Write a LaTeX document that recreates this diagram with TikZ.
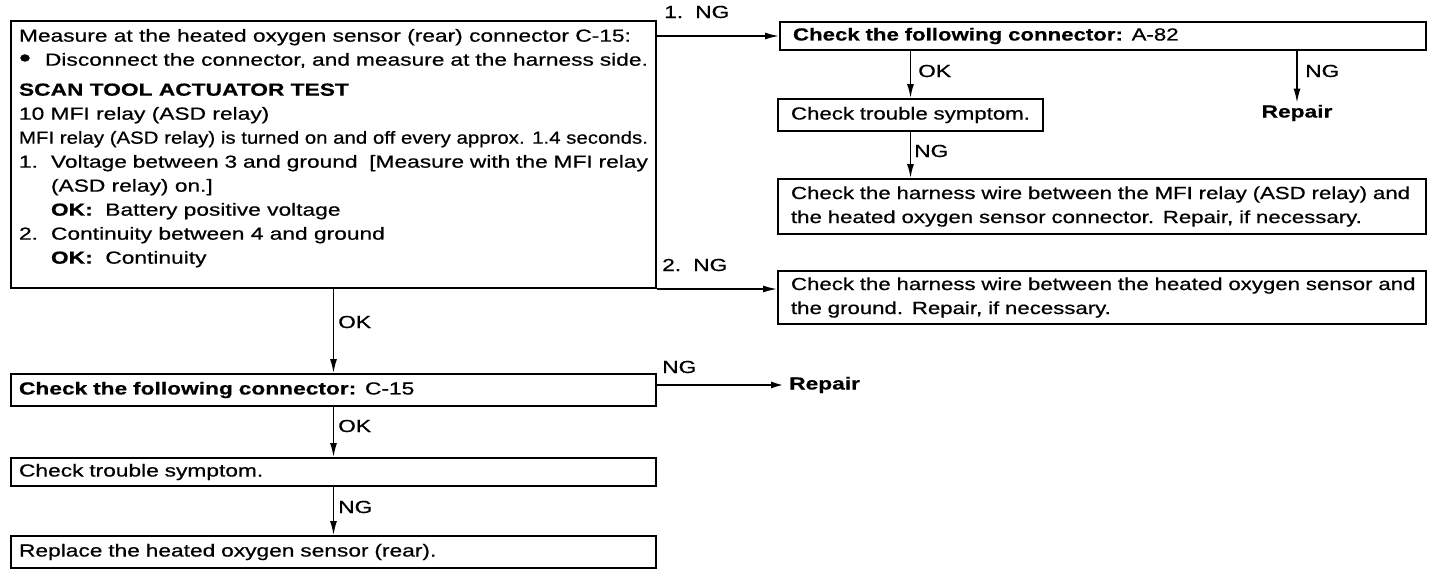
\documentclass[tikz,border=0pt]{standalone}
\usepackage{fontspec}
\usepackage{graphicx}
\setmainfont{Liberation Sans}[FakeStretch=1.3, UprightFeatures={FakeBold=0.6}, BoldFeatures={FakeBold=0.5}]
\newfontfamily\rightfont{Liberation Sans}[FakeStretch=1.27, UprightFeatures={FakeBold=0.6}, BoldFeatures={FakeBold=0.5}]
\usetikzlibrary{arrows.meta}

\tikzset{
  box/.style={draw, line width=2pt, anchor=north west, inner ysep=0pt, align=left},
  rbox/.style={box, inner xsep=13pt, font=\txtsize\rightfont},
  arr/.style={line width=1.5pt, -{Latex[length=14pt,width=7pt]}},
  lbl/.style={inner sep=0pt, anchor=west},
}
\newcommand{\txtsize}{\fontsize{17.5}{24}\selectfont}
\newcommand{\ind}{\hspace*{32pt}}

\begin{document}
\begin{tikzpicture}[x=1pt, y=-1pt, font=\txtsize]
  \useasboundingbox (0,0) rectangle (1440,574);

  % left column
  \node[box, inner xsep=8pt, inner ysep=8pt] (meas) at (10,20) {\parbox[t][251pt][t]{629pt}{\raggedright
    Measure at the heated oxygen sensor (rear) connector C-15:\\
    \makebox[26pt][l]{\raisebox{-1pt}{\scalebox{1.5}{\textbullet}}}Disconnect the connector, and measure at the harness side.\\[6pt]
    \textbf{SCAN TOOL ACTUATOR TEST}\\
    10 MFI relay (ASD relay)\\
    \resizebox{629pt}{\height}{MFI relay (ASD relay) is turned on and off every approx. 1.4 seconds.}\\
    \makebox[32pt][l]{1.}Voltage between 3 and ground\ \ [Measure with the MFI relay\\
    \ind(ASD relay) on.]\\
    \ind\textbf{OK:}\ \ Battery positive voltage\\
    \makebox[32pt][l]{2.}Continuity between 4 and ground\\
    \ind\textbf{OK:}\ \ Continuity}};
  \node[box, inner xsep=8pt, text width=629pt, minimum height=32pt] (conB) at (10,373) {\textbf{Check the following connector:} C-15};
  \node[box, inner xsep=8pt, text width=629pt, minimum height=28pt] (trbB) at (10,457) {Check trouble symptom.};
  \node[box, inner xsep=8pt, text width=629pt, minimum height=32pt] (repl) at (10,535) {Replace the heated oxygen sensor (rear).};

  % right column
  \node[rbox, text width=620pt, minimum height=28pt] (conA) at (779,21) {\textbf{Check the following connector:} A-82};
  \node[rbox, text width=239pt, minimum height=32pt] (trbA) at (777,98) {\mbox{Check trouble symptom.}};
  \node[rbox, text width=622pt, minimum height=55pt] (wireA) at (777,178) {\mbox{Check the harness wire between the MFI relay (ASD relay) and}\\\mbox{the heated oxygen sensor connector. Repair, if necessary.}};
  \node[rbox, text width=622pt, minimum height=53pt] (wireB) at (777,270) {\mbox{Check the harness wire between the heated oxygen sensor and}\\\mbox{the ground. Repair, if necessary.}};
  \node[inner sep=0pt] (repA) at (1297,113) {\textbf{Repair}};
  \node[lbl] (repB) at (789,385) {\textbf{Repair}};

  % labels
  \node[lbl] (ng1) at (664,12) {\makebox[31pt][l]{1.}NG};
  \node[lbl] (ng2) at (662,265) {\makebox[31pt][l]{2.}NG};
  \node[lbl] (ng3) at (662,367) {NG};
  \node[lbl] (okA) at (918,71) {OK};
  \node[lbl] (ngA) at (1305,71) {NG};
  \node[lbl] (ngB) at (914,151) {NG};
  \node[lbl] (okB) at (338,322) {OK};
  \node[lbl] (okC) at (338,426) {OK};
  \node[lbl] (ngC) at (338,507) {NG};

  % connectors
  \draw[arr] (meas.east |- conA.west) -- (conA.west);
  \draw[arr] (meas.south east) -- (meas.south east -| wireB.west);
  \draw[arr] (conA.south -| trbA.north) -- (trbA.north);
  \draw[arr] (conA.south -| repA.north) -- ([yshift=2pt]repA.north);
  \draw[arr] (trbA.south) -- (trbA.south |- wireA.north);
  \draw[arr] (meas.south) -- (conB.north);
  \draw[arr, line width=2.6pt] (conB.east |- repB.west) -- ([xshift=-4pt]repB.west);
  \draw[arr] (conB.south) -- (trbB.north);
  \draw[arr] (trbB.south) -- (repl.north);
\end{tikzpicture}
\end{document}
